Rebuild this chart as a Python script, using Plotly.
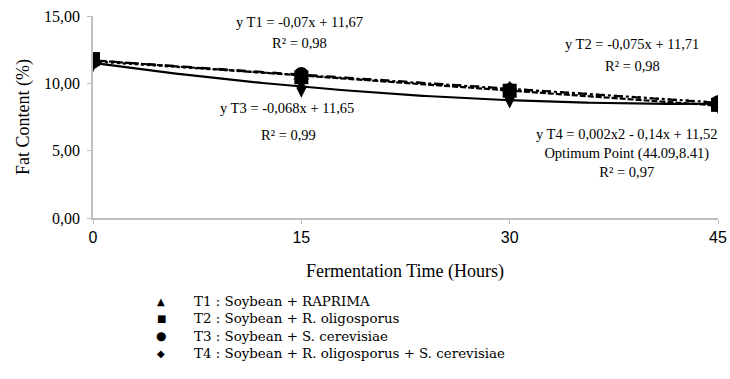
import numpy as np
import plotly.graph_objects as go

# ---- data ----
time_h = [0, 15, 30, 45]
t1_fat = [11.75, 10.55, 9.65, 8.55]
t2_fat = [11.80, 10.45, 9.45, 8.40]
t3_fat = [11.60, 10.70, 9.50, 8.60]
t4_fat = [11.55, 9.65, 8.85, 8.45]

series_names = [
    "T1 : Soybean + RAPRIMA",
    "T2 : Soybean + R. oligosporus",
    "T3 : Soybean + S. cerevisiae",
    "T4 : Soybean + R. oligosporus + S. cerevisiae",
]
legend_glyphs = ["▲", "■", "●", "◆"]
series_values = [t1_fat, t2_fat, t3_fat, t4_fat]
symbols = ["triangle-up", "square", "circle", "diamond-tall"]
trend_degree = [1, 1, 1, 2]
trend_dash = ["dash", "6px,2px", "dot", "solid"]

eq_texts = [
    ("y T1 = -0,07x + 11,67", "R² = 0,98"),
    ("y T2 = -0,075x + 11,71", "R² = 0,98"),
    ("y T3 = -0,068x + 11,65", "R² = 0,99"),
    ("y T4 = 0,002x2 - 0,14x + 11,52", "Optimum Point (44.09,8.41)", "R² = 0,97"),
]

SERIF = "Liberation Serif"
SANS = "Liberation Sans"

W, H = 730, 379
L, R, T, B = 93, 12, 16, 161
PW, PH = W - L - R, H - T - B

fig = go.Figure()
xs = np.linspace(0, 45, 200)

# trendlines fitted from the data
for vals, deg, dash in zip(series_values, trend_degree, trend_dash):
    coef = np.polyfit(time_h, vals, deg)
    fig.add_trace(go.Scatter(x=xs, y=np.polyval(coef, xs), mode="lines",
                             line=dict(color="black", width=2.2, dash=dash),
                             showlegend=False, hoverinfo="skip"))

# data markers
for name, vals, sym in zip(series_names, series_values, symbols):
    fig.add_trace(go.Scatter(x=time_h, y=vals, mode="markers", name=name,
                             marker=dict(symbol=sym, size=14, color="black"),
                             showlegend=False))


def ann(text, px, py, size=14.5, xanchor="center", family=SERIF, angle=0,
        align="center", pad=1):
    fig.add_annotation(text=text, x=(px - L) / PW, y=(H - B - py) / PH,
                       xref="paper", yref="paper", textangle=angle, align=align,
                       showarrow=False, xanchor=xanchor, yanchor="middle", borderpad=pad,
                       font=dict(family=family, size=size, color="black"))


ann(eq_texts[0][0], 299, 22)
ann(eq_texts[0][1], 299, 43)
ann(eq_texts[1][0], 632, 44)
ann(eq_texts[1][1], 632, 66)
ann(eq_texts[2][0], 287, 108)
ann(eq_texts[2][1], 288, 135)
ann("<br>".join(eq_texts[3]), 627, 153)

# axis titles
ann("Fermentation Time (Hours)", 405, 271, size=18)
ann("Fat Content (%)", 23, 117, size=18, angle=-90)

# legend built from text
legend_rows = [301, 318.5, 336, 353.5]
for glyph, name, py in zip(legend_glyphs, series_names, legend_rows):
    ann(glyph, 161, py, size=10 if glyph != "●" else 12, family="DejaVu Sans", pad=0)
    ann(name, 193, py, size=13.4, xanchor="left", family="DejaVu Serif", pad=0)

fig.update_layout(
    width=W, height=H,
    margin=dict(l=L, r=R, t=T, b=B, autoexpand=False),
    paper_bgcolor="white", plot_bgcolor="white",
    separators=",.",
    showlegend=False,
    xaxis=dict(range=[0, 45], tickvals=time_h, ticktext=[str(t) for t in time_h],
               showgrid=False, zeroline=False, showline=True, linecolor="#bfbfbf",
               linewidth=1.5, ticks="outside", ticklen=4, tickcolor="#bfbfbf",
               tickfont=dict(family=SANS, size=16, color="black")),
    yaxis=dict(range=[0, 15], tickvals=[0, 5, 10, 15], tickformat=".2f",
               showgrid=False, zeroline=False, showline=True, linecolor="#bfbfbf",
               linewidth=1.5, ticks="outside", ticklen=4, tickcolor="#bfbfbf",
               ticklabelstandoff=4,
               tickfont=dict(family=SERIF, size=16, color="black")),
)

fig.write_html("out.html")
